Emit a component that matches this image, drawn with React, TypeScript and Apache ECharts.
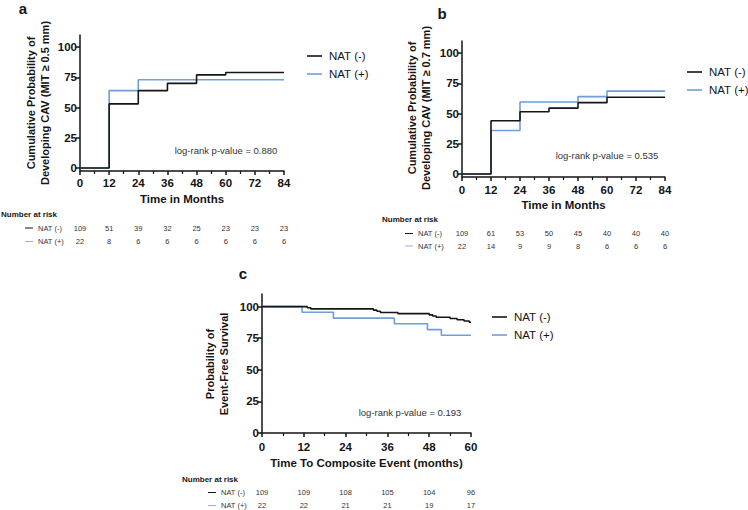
import React, { useEffect, useRef } from 'react';
import * as echarts from 'echarts';

// ---- data ----
const monthsAB = [0, 12, 24, 36, 48, 60, 72, 84];
const monthsC = [0, 12, 24, 36, 48, 60];
const yTicks = [0, 25, 50, 75, 100];

// panel a (cumulative %, value after each event time)
const aNegTimes = [0, 12, 24, 36, 48, 60, 84];
const aNegValues = [0, 53, 64, 70, 77, 79, 79];
const aPosTimes = [0, 12, 24, 84];
const aPosValues = [0, 64, 73, 73];

// panel b
const bNegTimes = [0, 12, 24, 36, 48, 60, 84];
const bNegValues = [0, 44, 51.5, 54.5, 59, 63.5, 63.5];
const bPosTimes = [0, 12, 24, 48, 60, 84];
const bPosValues = [0, 36, 59.5, 64, 68.5, 68.5];

// panel c (event-free survival %)
const cNegTimes = [0, 13, 14, 32, 33, 34, 39, 48, 49, 50, 54, 56, 58, 59.5, 60];
const cNegValues = [100, 99.1, 98.2, 97.2, 96.3, 95.4, 94.5, 93.5, 92.6, 91.6, 90.6, 89.6, 88.6, 87.6, 87.6];
const cPosTimes = [0, 11.5, 20.5, 38, 47.5, 51.5, 60];
const cPosValues = [100, 95.5, 90.9, 86.4, 81.8, 77.3, 77.3];

// numbers at risk
const aRiskNeg = [109, 51, 39, 32, 25, 23, 23, 23];
const aRiskPos = [22, 8, 6, 6, 6, 6, 6, 6];
const bRiskNeg = [109, 61, 53, 50, 45, 40, 40, 40];
const bRiskPos = [22, 14, 9, 9, 8, 6, 6, 6];
const cRiskNeg = [109, 109, 108, 105, 104, 96];
const cRiskPos = [22, 22, 21, 21, 19, 17];

const groupNames = ['NAT (-)', 'NAT (+)'];
const pValues = ['log-rank p-value = 0.880', 'log-rank p-value = 0.535', 'log-rank p-value = 0.193'];

const FONT = '"Liberation Sans", Arial, Helvetica, sans-serif';
const BLACK = '#151515';
const BLUE = '#6f9edb';
const RISK_BLUE = '#a3a7e4';

const zip = (t: number[], v: number[]) => t.map((x, i) => [x, v[i]]);

export default function App() {
  const ref = useRef<HTMLDivElement>(null);
  useEffect(() => {
    if (!ref.current) return;
    const chart = echarts.init(ref.current, undefined, { renderer: 'svg' });

    const axisLineStyle = { color: BLACK, width: 1.5 };
    const mkX = (gridIndex: number, max: number, name: string, margin: number, nameGap: number) => ({
      type: 'value', gridIndex, min: 0, max, interval: 12,
      axisLine: { show: true, onZero: false, lineStyle: axisLineStyle },
      axisTick: { show: true, length: 4, lineStyle: axisLineStyle },
      minorTick: { show: true, splitNumber: 2, length: 3, lineStyle: { color: BLACK, width: 1.2 } },
      axisLabel: { color: BLACK, fontWeight: 'bold', fontSize: 11.5, fontFamily: FONT, margin },
      splitLine: { show: false },
      name, nameLocation: 'middle', nameGap,
      nameTextStyle: { color: BLACK, fontWeight: 'bold', fontSize: 11.5, fontFamily: FONT },
    });
    const mkY = (gridIndex: number, min: number) => ({
      type: 'value', gridIndex, min, max: 110,
      axisLine: { show: true, onZero: false, lineStyle: axisLineStyle },
      axisTick: { show: true, length: 4, customValues: yTicks, lineStyle: axisLineStyle },
      axisLabel: { color: BLACK, fontWeight: 'bold', fontSize: 11.5, fontFamily: FONT, margin: 3, customValues: yTicks },
      splitLine: { show: false },
    });
    const mkS = (name: string, x: number, y: number, data: number[][], color: string) => ({
      type: 'line', name, xAxisIndex: x, yAxisIndex: y, step: 'end', symbol: 'none',
      data, lineStyle: { color, width: 1.6 }, itemStyle: { color }, z: color === BLACK ? 3 : 2,
    });

    chart.setOption({
      animation: false,
      backgroundColor: '#ffffff',
      grid: [
        { left: 80, top: 35, width: 204, height: 136 },
        { left: 462, top: 41, width: 203, height: 136 },
        { left: 262, top: 294, width: 209, height: 139 },
      ],
      xAxis: [
        mkX(0, 84, 'Time in Months', 6, 22),
        mkX(1, 84, 'Time in Months', 7, 22),
        mkX(2, 60, 'Time To Composite Event (months)', 8, 24),
      ],
      yAxis: [mkY(0, -2.5), mkY(1, -2.5), mkY(2, 0)],
      series: [
        mkS(groupNames[1], 0, 0, zip(aPosTimes, aPosValues), BLUE),
        mkS(groupNames[0], 0, 0, zip(aNegTimes, aNegValues), BLACK),
        mkS(groupNames[1], 1, 1, zip(bPosTimes, bPosValues), BLUE),
        mkS(groupNames[0], 1, 1, zip(bNegTimes, bNegValues), BLACK),
        mkS(groupNames[1], 2, 2, zip(cPosTimes, cPosValues), BLUE),
        mkS(groupNames[0], 2, 2, zip(cNegTimes, cNegValues), BLACK),
      ],
    });

    const g: any[] = [];
    const txt = (x: number, y: number, text: string, fontSize: number, opts: any = {}) => ({
      type: 'text', x, y, silent: true, rotation: opts.rotation || 0,
      style: {
        text, fontSize, fontFamily: FONT, fontWeight: opts.bold ? 'bold' : 'normal',
        fill: opts.color || BLACK, align: opts.align || 'left', verticalAlign: 'middle',
        lineHeight: opts.lineHeight,
      },
    });
    const seg = (x1: number, x2: number, y: number, color: string, w: number) => ({
      type: 'line', silent: true, shape: { x1, y1: y, x2, y2: y }, style: { stroke: color, lineWidth: w },
    });

    // panel letters
    g.push(txt(23, 8, 'a', 15, { bold: true, align: 'center' }));
    g.push(txt(442, 13, 'b', 15, { bold: true, align: 'center' }));
    g.push(txt(243, 273, 'c', 15, { bold: true, align: 'center' }));

    // y titles
    g.push(txt(38, 103, 'Cumulative Probability of\nDeveloping CAV (MIT \u2265 0.5 mm)', 11, { bold: true, align: 'center', rotation: Math.PI / 2, lineHeight: 14 }));
    g.push(txt(419, 108, 'Cumulative Probability of\nDeveloping CAV (MIT \u2265 0.7 mm)', 11, { bold: true, align: 'center', rotation: Math.PI / 2, lineHeight: 14 }));
    g.push(txt(217, 364, 'Probability of\nEvent-Free Survival', 11, { bold: true, align: 'center', rotation: Math.PI / 2, lineHeight: 14 }));

    // legends
    const legend = (lx: number, ly: number) => {
      g.push(seg(lx, lx + 15, ly, BLACK, 1.6));
      g.push(seg(lx, lx + 15, ly + 18, BLUE, 1.6));
      g.push(txt(lx + 22, ly, groupNames[0], 11.5));
      g.push(txt(lx + 22, ly + 18, groupNames[1], 11.5));
    };
    legend(307, 56);
    legend(687, 72);
    legend(492, 317);

    // p-values
    g.push(txt(226, 150, pValues[0], 9.5, { align: 'center', color: '#333' }));
    g.push(txt(607, 155, pValues[1], 9.5, { align: 'center', color: '#333' }));
    g.push(txt(410, 412, pValues[2], 9.5, { align: 'center', color: '#333' }));

    // risk tables
    const risk = (axis: number, months: number[], neg: number[], pos: number[], hx: number, hy: number, lx: number, r1: number, r2: number) => {
      g.push(txt(hx, hy, 'Number at risk', 8, { bold: true }));
      g.push(seg(lx, lx + 8, r1, BLACK, 1));
      g.push(seg(lx, lx + 8, r2, RISK_BLUE, 1));
      g.push(txt(lx + 13, r1, groupNames[0], 7.5, { color: '#333' }));
      g.push(txt(lx + 13, r2, groupNames[1], 7.5, { color: '#333' }));
      months.forEach((m, i) => {
        const px = chart.convertToPixel({ xAxisIndex: axis }, m) as number;
        g.push(txt(px, r1, String(neg[i]), 7.5, { align: 'center', color: '#333' }));
        g.push(txt(px, r2, String(pos[i]), 7.5, { align: 'center', color: '#333' }));
      });
    };
    risk(0, monthsAB, aRiskNeg, aRiskPos, 1, 214, 25, 228, 241.5);
    risk(1, monthsAB, bRiskNeg, bRiskPos, 382, 219.5, 405, 233.5, 246);
    risk(2, monthsC, cRiskNeg, cRiskPos, 182, 479, 208, 492.5, 505.5);

    chart.setOption({ graphic: g });

    return () => chart.dispose();
  }, []);

  return (
    <div
      ref={ref}
      style={{ position: 'fixed', left: 0, top: 0, width: 748, height: 510, background: '#fff' }}
    />
  );
}
